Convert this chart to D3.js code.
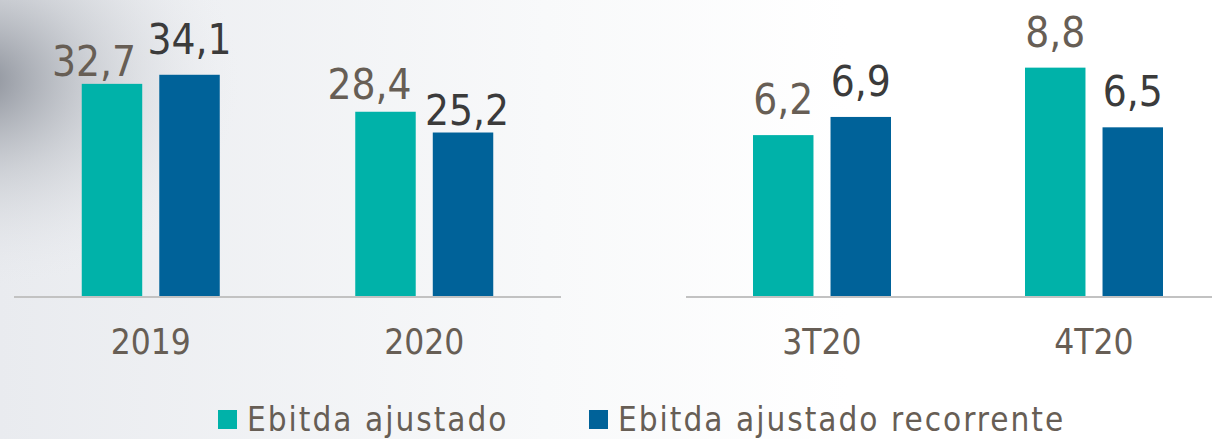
<!DOCTYPE html>
<html>
<head>
<meta charset="utf-8">
<script src="https://cdnjs.cloudflare.com/ajax/libs/d3/7.8.5/d3.min.js"></script>
<style>
  body { margin: 0; background: #fff; }
  svg { display: block; }
  text { font-family: "DejaVu Sans Condensed", "DejaVu Sans", sans-serif; font-stretch: condensed; }
</style>
</head>
<body>
<div id="chart"></div>
<script>
// data
var seriesNames = ["Ebitda ajustado", "Ebitda ajustado recorrente"];
var yearCats = ["2019", "2020"];
var yearAjustado = [32.7, 28.4];
var yearRecorrente = [34.1, 25.2];
var quarterCats = ["3T20", "4T20"];
var quarterAjustado = [6.2, 8.8];
var quarterRecorrente = [6.9, 6.5];

var colors = ["#00b2a9", "#006299"];
var labelColors = ["#675e55", "#3b3b3b"];

var w = 1212, h = 439;
var baseY = 296;

var svg = d3.select("#chart")
    .append("svg")
    .attr("width", w)
    .attr("height", h);

// background shading (grey corner top left)
var defs = svg.append("defs");
var lin = defs.append("linearGradient").attr("id", "bgLin")
    .attr("x1", "0").attr("y1", "0").attr("x2", "1").attr("y2", "0");
lin.append("stop").attr("offset", "0").attr("stop-color", "#e9ebef");
lin.append("stop").attr("offset", "0.45").attr("stop-color", "#f8f9fa");
lin.append("stop").attr("offset", "0.7").attr("stop-color", "#ffffff");

var rad = defs.append("radialGradient").attr("id", "bgRad")
    .attr("gradientUnits", "userSpaceOnUse")
    .attr("cx", -20).attr("cy", 80).attr("r", 260)
    .attr("gradientTransform", "translate(-20,80) scale(1,0.8) translate(20,-80)");
rad.append("stop").attr("offset", "0").attr("stop-color", "#80858f").attr("stop-opacity", 0.9);
rad.append("stop").attr("offset", "0.45").attr("stop-color", "#aeb2b9").attr("stop-opacity", 0.45);
rad.append("stop").attr("offset", "1").attr("stop-color", "#e6e8ec").attr("stop-opacity", 0);

svg.append("rect").attr("width", w).attr("height", h).attr("fill", "url(#bgLin)");
svg.append("rect").attr("width", w).attr("height", h).attr("fill", "url(#bgRad)");

// label nudges (left panel labels were moved by hand in the original)
var nudge = {
    "2019-0": [-18, 13], "2019-1": [0, 0],
    "2020-0": [-16, 8], "2020-1": [4, 13]
};

function drawPanel(cats, vals, x0, x1, yMax) {
    var xScale = d3.scaleBand()
        .domain(cats)
        .range([x0, x1]);

    var yScale = d3.scaleLinear()
        .domain([0, yMax])
        .range([baseY, 36.5]);

    var g = svg.append("g");

    // baseline
    g.append("line")
        .attr("x1", x0)
        .attr("x2", Math.min(x1, w))
        .attr("y1", baseY + 1)
        .attr("y2", baseY + 1)
        .attr("stroke", "#c2c2c2")
        .attr("stroke-width", 2);

    var rows = [];
    cats.forEach(function (c, i) {
        vals.forEach(function (v, s) {
            rows.push({ cat: c, s: s, value: v[i] });
        });
    });

    var inner = function (c) {
        var mid = xScale(c) + xScale.bandwidth() / 2;
        return d3.scaleBand()
            .domain([0, 1])
            .range([mid - 69, mid + 69])
            .paddingInner(0.22);
    };

    g.selectAll(".bar")
        .data(rows)
        .enter()
        .append("rect")
        .attr("class", "bar")
        .attr("x", function (d) { return inner(d.cat)(d.s); })
        .attr("width", function (d) { return inner(d.cat).bandwidth(); })
        .attr("y", function (d) { return yScale(d.value); })
        .attr("height", function (d) { return baseY - yScale(d.value); })
        .attr("fill", function (d) { return colors[d.s]; });

    g.selectAll(".val")
        .data(rows)
        .enter()
        .append("text")
        .attr("class", "val")
        .attr("text-anchor", "middle")
        .attr("font-size", 42)
        .attr("fill", function (d) { return labelColors[d.s]; })
        .attr("x", function (d) {
            var n = nudge[d.cat + "-" + d.s] || [0, 0];
            var b = inner(d.cat);
            return b(d.s) + b.bandwidth() / 2 + n[0];
        })
        .attr("y", function (d) {
            var n = nudge[d.cat + "-" + d.s] || [0, 0];
            return yScale(d.value) - 21 + n[1];
        })
        .text(function (d) { return d3.format(".1f")(d.value).replace(".", ","); });

    g.selectAll(".cat")
        .data(cats)
        .enter()
        .append("text")
        .attr("class", "cat")
        .attr("text-anchor", "middle")
        .attr("font-size", 35)
        .attr("fill", "#675e55")
        .attr("x", function (d) { return xScale(d) + xScale.bandwidth() / 2; })
        .attr("y", 354)
        .text(function (d) { return d; });
}

drawPanel(yearCats, [yearAjustado, yearRecorrente], 14, 561, 40);
drawPanel(quarterCats, [quarterAjustado, quarterRecorrente], 686, 1230, 10);

// legend
var legendX = [218, 589];
var legend = svg.selectAll(".legend")
    .data(seriesNames)
    .enter()
    .append("g")
    .attr("class", "legend")
    .attr("transform", function (d, i) { return "translate(" + legendX[i] + ",410)"; });

legend.append("rect")
    .attr("width", 19)
    .attr("height", 19)
    .attr("fill", function (d, i) { return colors[i]; });

legend.append("text")
    .attr("x", 29)
    .attr("y", 21)
    .attr("font-size", 33)
    .attr("letter-spacing", 2)
    .attr("fill", "#675e55")
    .text(function (d) { return d; });
</script>
</body>
</html>
